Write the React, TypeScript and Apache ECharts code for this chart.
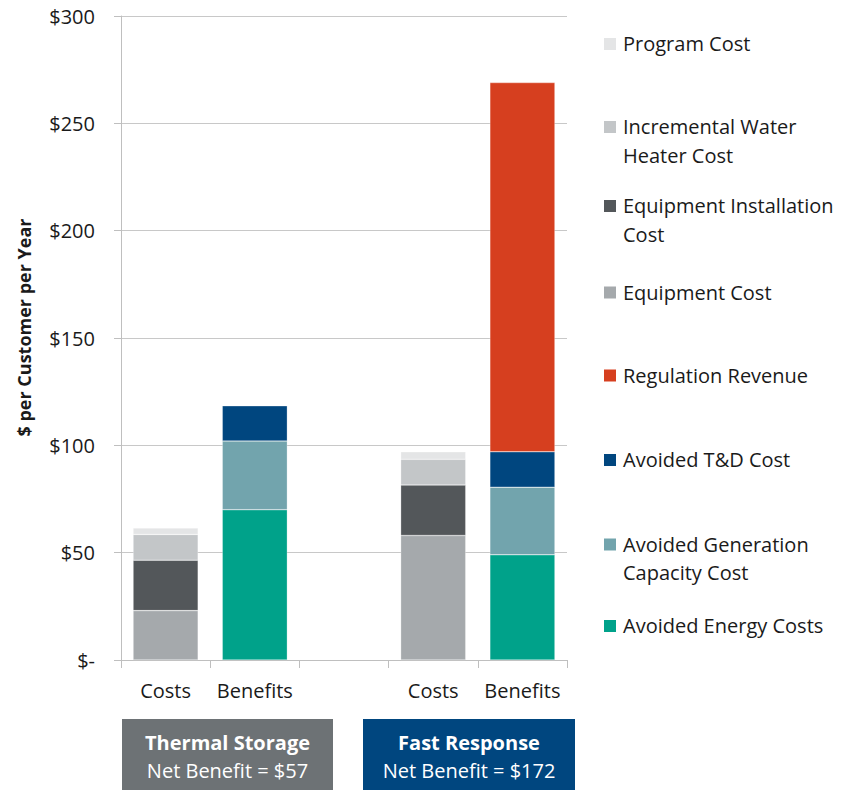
import React, { useEffect, useRef } from "react";
import * as echarts from "echarts";

const categories = ["Costs", "Benefits", "", "Costs ", "Benefits "];

const equipmentCost = [23, null, null, 58, null];
const equipmentInstallationCost = [23.5, null, null, 23.5, null];
const incrementalWaterHeaterCost = [12, null, null, 12, null];
const programCost = [3, null, null, 3.5, null];
const avoidedEnergyCosts = [null, 70, null, null, 49];
const avoidedGenerationCapacityCost = [null, 32, null, null, 31.5];
const avoidedTDCost = [null, 16.5, null, null, 16.5];
const regulationRevenue = [null, 0, null, null, 172];

const legendNames = [
  "Program Cost",
  "Incremental Water\nHeater Cost",
  "Equipment Installation\nCost",
  "Equipment Cost",
  "Regulation Revenue",
  "Avoided T&D Cost",
  "Avoided Generation\nCapacity Cost",
  "Avoided Energy Costs",
];
const legendColors = ["#e4e5e6", "#c3c6c8", "#53575a", "#a5a9ac", "#d63f1f", "#00467f", "#72a4ad", "#00a28a"];
const legendY = [44, 127, 206, 292.5, 375.5, 460, 544.5, 626];

const programs = ["Thermal Storage", "Fast Response"];
const netBenefits = ["Net Benefit = $57", "Net Benefit = $172"];

const FONT = "'Open Sans', Lato, sans-serif";
const FS = 20;

export default function App() {
  const ref = useRef<HTMLDivElement>(null);
  useEffect(() => {
    if (!ref.current) return;
    const chart = echarts.init(ref.current, undefined, { renderer: "svg" });
    const mk = (name: string, data: (number | null)[], color: string) => ({
      name,
      type: "bar",
      stack: "total",
      data,
      barWidth: "73%",
      itemStyle: { color, borderColor: "rgba(255,255,255,0.45)", borderWidth: 0.6 },
    });
    const g: any[] = [];
    legendNames.forEach((n, i) => {
      g.push({
        type: "rect",
        left: 604,
        top: legendY[i] - 6,
        shape: { width: 12, height: 12 },
        style: { fill: legendColors[i] },
      });
      g.push({
        type: "text",
        left: 623,
        top: legendY[i] - 14.5,
        style: { text: n, fill: "#1a1a1a", font: `${FS}px ${FONT}`, lineHeight: 28.5 },
      });
    });
    const boxes = [
      { x: 122, w: 211, color: "#6d7275" },
      { x: 363, w: 212, color: "#00467f" },
    ];
    boxes.forEach((b, i) => {
      g.push({
        type: "rect",
        left: b.x,
        top: 719,
        shape: { width: b.w, height: 72 },
        style: { fill: b.color },
      });
      g.push({
        type: "text",
        x: b.x + b.w / 2,
        y: 742,
        style: {
          text: programs[i],
          fill: "#ffffff",
          font: `bold ${FS}px ${FONT}`,
          align: "center",
          verticalAlign: "middle",
        },
      });
      g.push({
        type: "text",
        x: b.x + b.w / 2,
        y: 770,
        style: {
          text: netBenefits[i],
          fill: "#ffffff",
          font: `${FS}px ${FONT}`,
          align: "center",
          verticalAlign: "middle",
        },
      });
    });
    chart.setOption({
      animation: false,
      grid: { left: 121, right: 277, top: 16, bottom: 130 },
      xAxis: {
        type: "category",
        data: categories,
        axisLine: { lineStyle: { color: "#bfbfbf", width: 1 } },
        axisTick: { show: true, length: 8, lineStyle: { color: "#bfbfbf" } },
        axisLabel: {
          interval: 0,
          color: "#1a1a1a",
          fontSize: FS,
          fontFamily: FONT,
          margin: 20,
          formatter: (v: string) => v.trim(),
        },
      },
      yAxis: {
        type: "value",
        min: 0,
        max: 300,
        interval: 50,
        name: "$ per Customer per Year",
        nameLocation: "middle",
        nameGap: 88,
        nameTextStyle: {
          color: "#1a1a1a",
          fontSize: 18,
          fontWeight: "bold",
          fontFamily: FONT,
          padding: [0, 0, 0, 21],
        },
        axisLine: { show: true, lineStyle: { color: "#bfbfbf" } },
        axisTick: { show: true, length: 7, lineStyle: { color: "#bfbfbf" } },
        splitLine: { lineStyle: { color: "#c8c8c8" } },
        axisLabel: {
          color: "#1a1a1a",
          fontSize: FS,
          fontFamily: FONT,
          margin: 26,
          formatter: (v: number) => (v === 0 ? "$-" : `$${v}`),
        },
      },
      series: [
        mk("Equipment Cost", equipmentCost, legendColors[3]),
        mk("Equipment Installation Cost", equipmentInstallationCost, legendColors[2]),
        mk("Incremental Water Heater Cost", incrementalWaterHeaterCost, legendColors[1]),
        mk("Program Cost", programCost, legendColors[0]),
        mk("Avoided Energy Costs", avoidedEnergyCosts, legendColors[7]),
        mk("Avoided Generation Capacity Cost", avoidedGenerationCapacityCost, legendColors[6]),
        mk("Avoided T&D Cost", avoidedTDCost, legendColors[5]),
        mk("Regulation Revenue", regulationRevenue, legendColors[4]),
      ],
      graphic: g,
    });
    return () => chart.dispose();
  }, []);
  return <div ref={ref} style={{ position: "absolute", left: 0, top: 0, width: 844, height: 790 }} />;
}
